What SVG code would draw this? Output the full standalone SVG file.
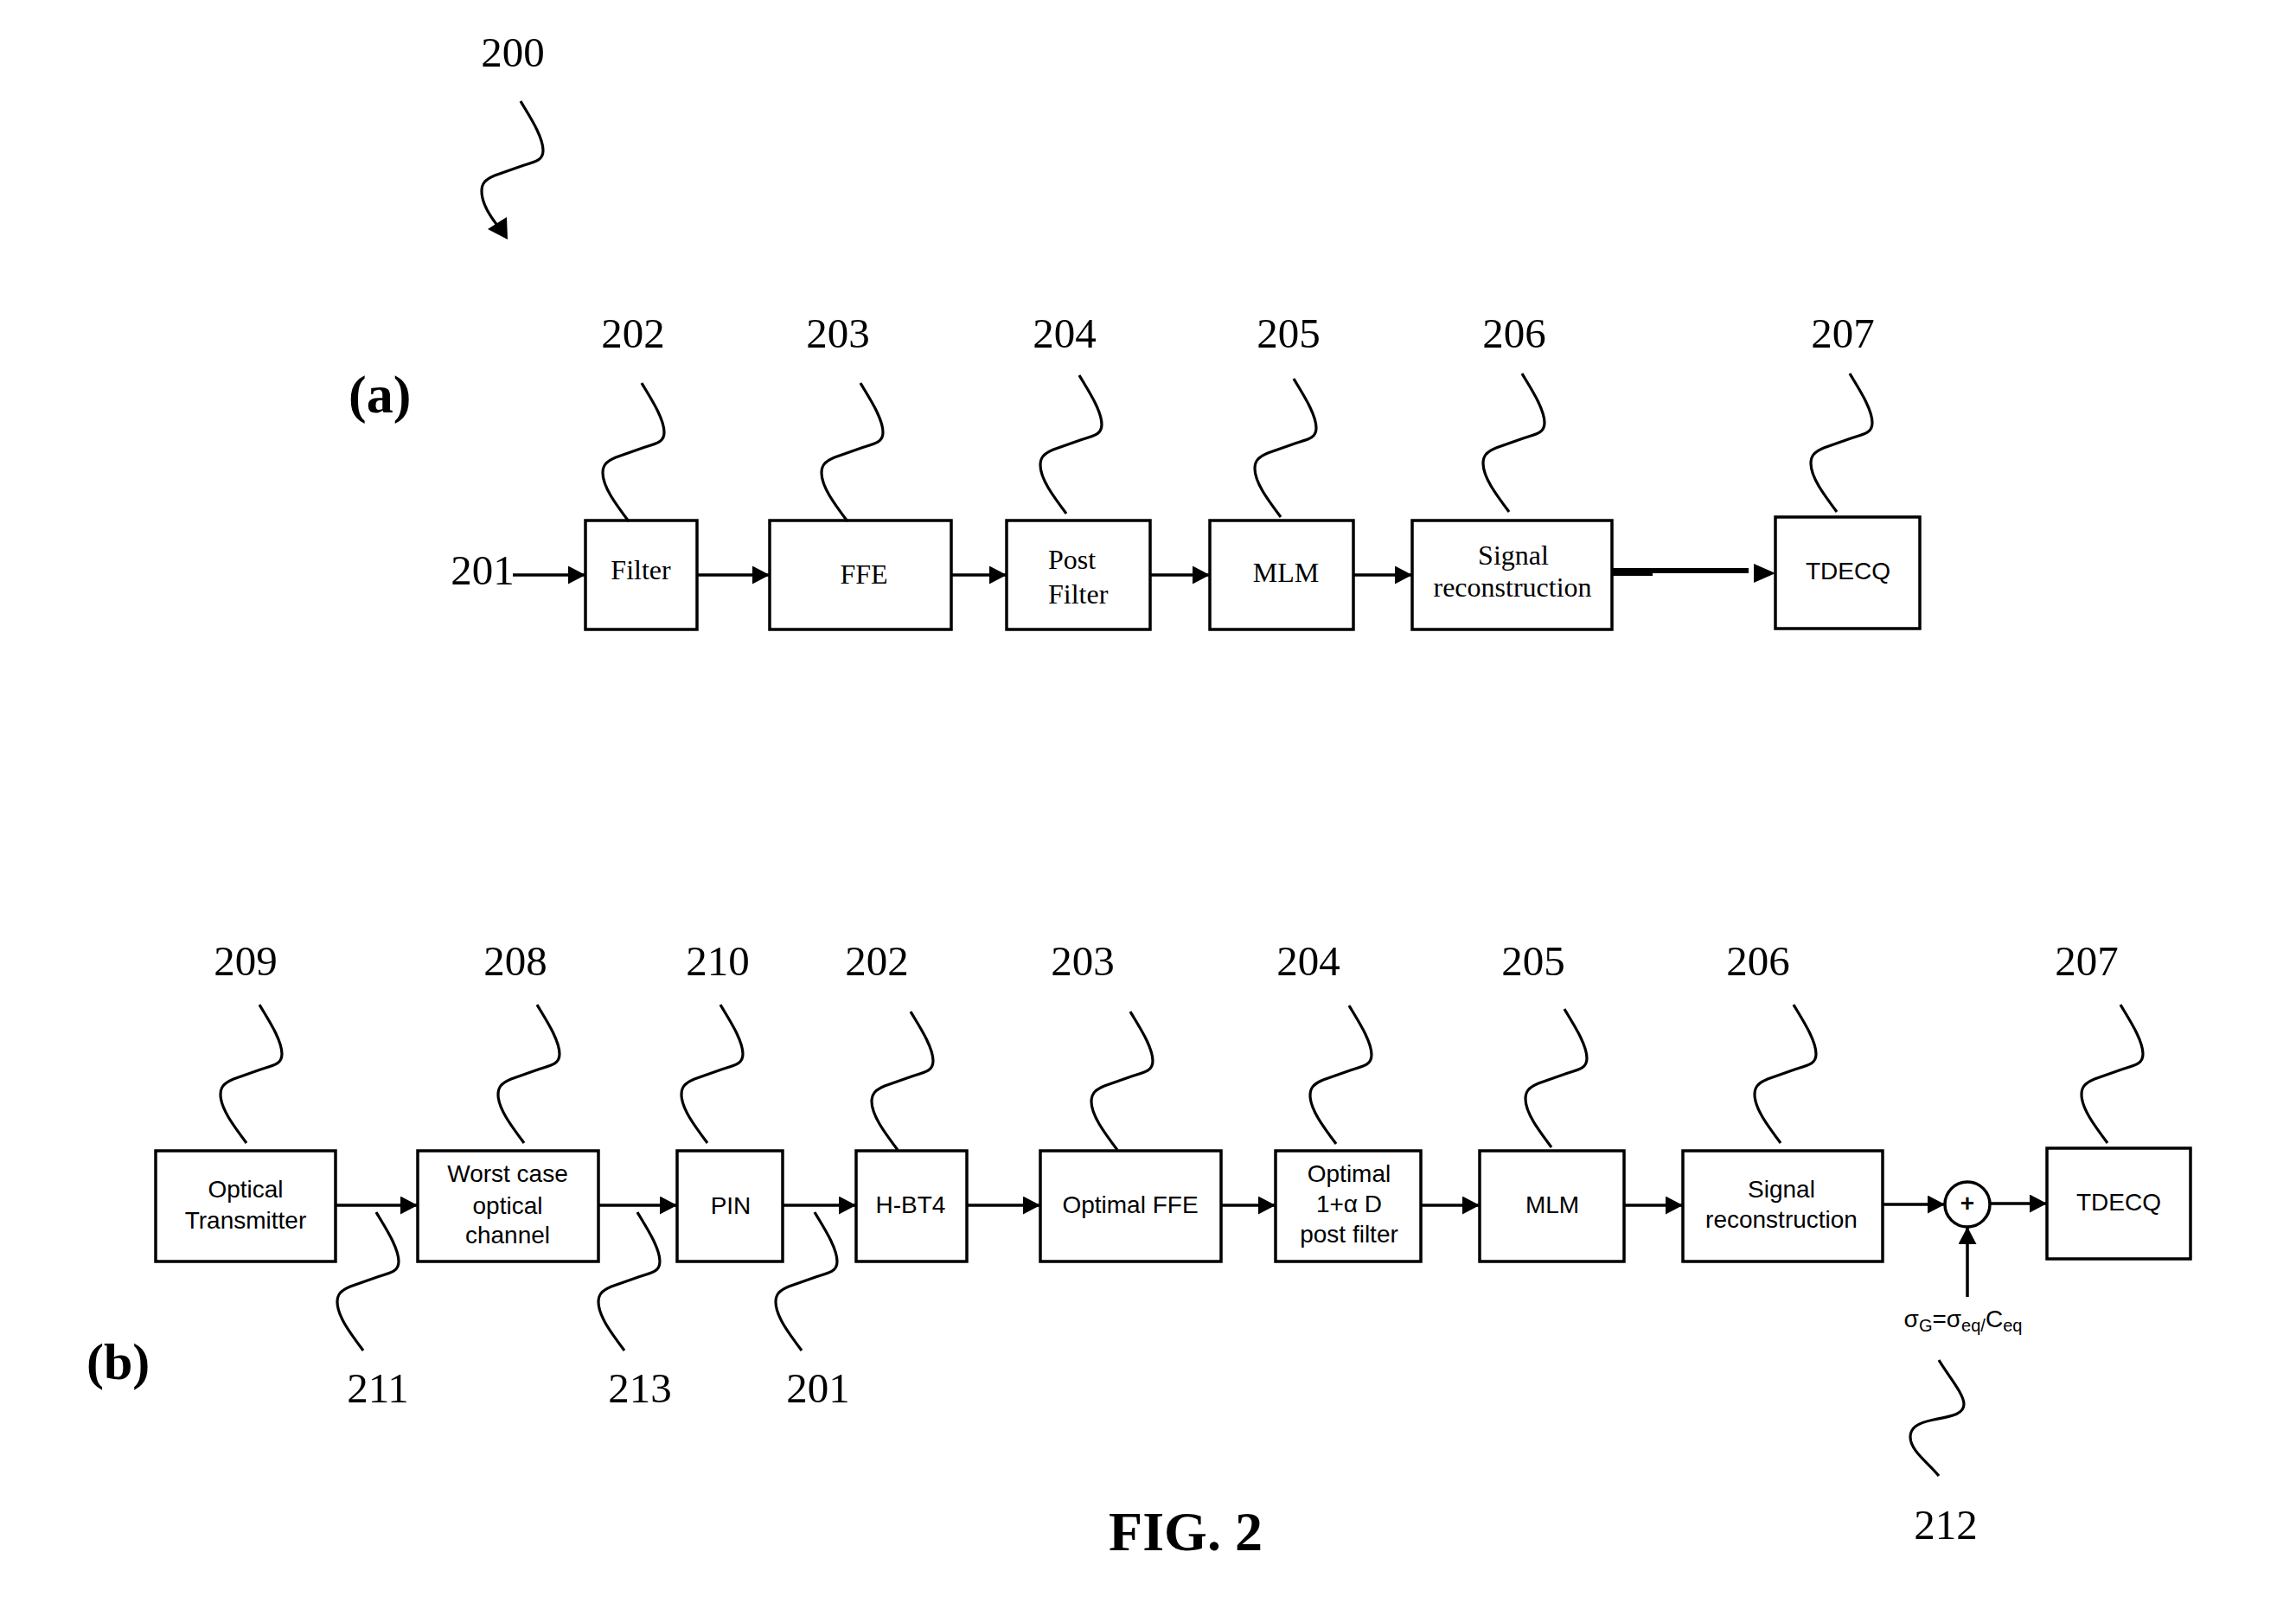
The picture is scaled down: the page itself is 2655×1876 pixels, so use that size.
<svg xmlns="http://www.w3.org/2000/svg" width="2655" height="1876" viewBox="0 0 2655 1876">
<style>
.box{fill:#fff;stroke:#000;stroke-width:3.5}
.lead{fill:none;stroke:#000;stroke-width:3.2}
.conn{fill:none;stroke:#000;stroke-width:3.5;marker-end:url(#ah)}
.num{font-family:"Liberation Serif",serif;font-size:49px;fill:#000;text-anchor:middle}
.ser{font-family:"Liberation Serif",serif;font-size:32px;fill:#000;text-anchor:middle}
.sans{font-family:"Liberation Sans",Arial,sans-serif;font-size:28px;fill:#000;text-anchor:middle}
.bold{font-family:"Liberation Serif",serif;font-weight:bold;fill:#000}
</style>
<defs>
<marker id="ah" markerUnits="userSpaceOnUse" markerWidth="20" markerHeight="22" refX="20" refY="10.5" orient="auto">
<path d="M0,0 L20,10.5 L0,21 z" fill="#000"/>
</marker>
<path id="sq" d="M0,0 C8,14 26,40 26,57 C26,68 18,70 4,74 L-30,86 C-42,91 -45,96 -45,104 C-45,120 -30,140 -15,160"/>
</defs>
<rect width="2655" height="1876" fill="#fff"/>

<g id="ref-200">
<text class="num" x="593" y="77">200</text>
<path class="lead" d="M602,117 C610,131 628,157 628,174 C628,185 620,187 606,191 L572,203 C560,208 557,213 557,221 C557,235 568,252 577,263"/>
<polygon points="587,277 564,265 586,251" fill="#000"/>
</g>

<g id="label-a"><text class="bold" x="403" y="477" font-size="62">(a)</text></g>
<g id="label-b"><text class="bold" x="100" y="1595" font-size="60">(b)</text></g>
<g id="fig-title"><text class="bold" x="1371" y="1793" font-size="64" text-anchor="middle">FIG. 2</text></g>

<!-- Row (a) -->
<g id="a-201"><text class="num" x="558" y="676">201</text></g>
<g id="a-filter">
<rect class="box" x="677" y="602" width="129" height="126"/>
<text class="ser" x="741" y="670">Filter</text>
<text class="num" x="732" y="402">202</text>
<use href="#sq" class="lead" x="742" y="443"/>
</g>
<g id="a-ffe">
<rect class="box" x="890" y="602" width="210" height="126"/>
<text class="ser" x="999" y="675">FFE</text>
<text class="num" x="969" y="402">203</text>
<use href="#sq" class="lead" x="995" y="443"/>
</g>
<g id="a-post">
<rect class="box" x="1164" y="602" width="166" height="126"/>
<text class="ser" x="1212" y="658" style="text-anchor:start">Post</text>
<text class="ser" x="1212" y="698" style="text-anchor:start">Filter</text>
<text class="num" x="1231" y="402">204</text>
<use href="#sq" class="lead" x="1248" y="434"/>
</g>
<g id="a-mlm">
<rect class="box" x="1399" y="602" width="166" height="126"/>
<text class="ser" x="1487" y="673">MLM</text>
<text class="num" x="1490" y="402">205</text>
<use href="#sq" class="lead" x="1496" y="438"/>
</g>
<g id="a-sr">
<rect class="box" x="1633" y="602" width="231" height="126"/>
<text class="ser" x="1750" y="653">Signal</text>
<text class="ser" x="1749" y="690">reconstruction</text>
<text class="num" x="1751" y="402">206</text>
<use href="#sq" class="lead" x="1760" y="432"/>
</g>
<g id="a-tdecq">
<rect class="box" x="2053" y="598" width="167" height="129"/>
<text class="sans" x="2137" y="670" font-size="29">TDECQ</text>
<text class="num" x="2131" y="402">207</text>
<use href="#sq" class="lead" x="2139" y="432"/>
</g>

<!-- Row (b) -->
<g id="b-otx">
<rect class="box" x="180" y="1331" width="208" height="128"/>
<text class="sans" x="284" y="1385">Optical</text>
<text class="sans" x="284" y="1421">Transmitter</text>
<text class="num" x="284" y="1128">209</text>
<use href="#sq" class="lead" x="300" y="1162"/>
</g>
<g id="b-wc">
<rect class="box" x="483" y="1331" width="209" height="128"/>
<text class="sans" x="587" y="1367">Worst case</text>
<text class="sans" x="587" y="1404">optical</text>
<text class="sans" x="587" y="1438">channel</text>
<text class="num" x="596" y="1128">208</text>
<use href="#sq" class="lead" x="621" y="1162"/>
</g>
<g id="b-pin">
<rect class="box" x="783" y="1331" width="122" height="128"/>
<text class="sans" x="845" y="1404">PIN</text>
<text class="num" x="830" y="1128">210</text>
<use href="#sq" class="lead" x="833" y="1162"/>
</g>
<g id="b-hbt4">
<rect class="box" x="990" y="1331" width="128" height="128"/>
<text class="sans" x="1053" y="1403">H-BT4</text>
<text class="num" x="1014" y="1128">202</text>
<use href="#sq" class="lead" x="1053" y="1170"/>
</g>
<g id="b-offe">
<rect class="box" x="1203" y="1331" width="209" height="128"/>
<text class="sans" x="1307" y="1403">Optimal FFE</text>
<text class="num" x="1252" y="1128">203</text>
<use href="#sq" class="lead" x="1307" y="1170"/>
</g>
<g id="b-opf">
<rect class="box" x="1475" y="1331" width="168" height="128"/>
<text class="sans" x="1560" y="1367">Optimal</text>
<text class="sans" x="1560" y="1402">1+α D</text>
<text class="sans" x="1560" y="1437">post filter</text>
<text class="num" x="1513" y="1128">204</text>
<use href="#sq" class="lead" x="1560" y="1163"/>
</g>
<g id="b-mlm">
<rect class="box" x="1711" y="1331" width="167" height="128"/>
<text class="sans" x="1795" y="1403">MLM</text>
<text class="num" x="1773" y="1128">205</text>
<use href="#sq" class="lead" x="1809" y="1167"/>
</g>
<g id="b-sr">
<rect class="box" x="1946" y="1331" width="231" height="128"/>
<text class="sans" x="2060" y="1385">Signal</text>
<text class="sans" x="2060" y="1420">reconstruction</text>
<text class="num" x="2033" y="1128">206</text>
<use href="#sq" class="lead" x="2074" y="1162"/>
</g>
<g id="b-sum">
<circle cx="2275" cy="1393" r="26" fill="#fff" stroke="#000" stroke-width="3.5"/>
<text class="sans" x="2275" y="1401" font-size="22" font-weight="bold">+</text>
</g>
<g id="b-tdecq">
<rect class="box" x="2367" y="1328" width="166" height="128"/>
<text class="sans" x="2450" y="1400">TDECQ</text>
<text class="num" x="2413" y="1128">207</text>
<use href="#sq" class="lead" x="2452" y="1162"/>
</g>
<g id="b-sigma">
<text class="sans" x="2270" y="1535" font-size="30">σ<tspan font-size="20" dy="5">G</tspan><tspan dy="-5">=σ</tspan><tspan font-size="20" dy="5">eq/</tspan><tspan dy="-5">C</tspan><tspan font-size="20" dy="5">eq</tspan></text>
<text class="num" x="2250" y="1780">212</text>
<path class="lead" d="M2242,1573 C2252,1590 2271,1612 2271,1624 C2271,1636 2256,1638 2236,1642 C2216,1646 2209,1652 2209,1662 C2209,1678 2230,1692 2242,1707"/>
</g>
<g id="b-refs-bottom">
<use href="#sq" class="lead" x="435" y="1402"/>
<text class="num" x="437" y="1622">211</text>
<use href="#sq" class="lead" x="737" y="1402"/>
<text class="num" x="740" y="1622">213</text>
<use href="#sq" class="lead" x="942" y="1402"/>
<text class="num" x="946" y="1622">201</text>
</g>

<g id="connectors">
<line class="conn" x1="593" y1="665" x2="677" y2="665"/>
<line class="conn" x1="806" y1="665" x2="890" y2="665"/>
<line class="conn" x1="1100" y1="665" x2="1164" y2="665"/>
<line class="conn" x1="1330" y1="665" x2="1399" y2="665"/>
<line class="conn" x1="1565" y1="665" x2="1633" y2="665"/>
<rect x="1864" y="657" width="47" height="9" fill="#000"/>
<rect x="1911" y="657" width="111" height="6" fill="#000"/>
<polygon points="2053,663 2028,652 2028,674" fill="#000"/>
<line class="conn" x1="388" y1="1394" x2="483" y2="1394"/>
<line class="conn" x1="692" y1="1394" x2="783" y2="1394"/>
<line class="conn" x1="905" y1="1394" x2="990" y2="1394"/>
<line class="conn" x1="1118" y1="1394" x2="1203" y2="1394"/>
<line class="conn" x1="1412" y1="1394" x2="1475" y2="1394"/>
<line class="conn" x1="1643" y1="1394" x2="1711" y2="1394"/>
<line class="conn" x1="1878" y1="1394" x2="1946" y2="1394"/>
<line class="conn" x1="2177" y1="1393" x2="2249" y2="1393"/>
<line class="conn" x1="2301" y1="1392" x2="2367" y2="1392"/>
<line class="conn" x1="2275" y1="1500" x2="2275" y2="1419"/>
</g>
</svg>
